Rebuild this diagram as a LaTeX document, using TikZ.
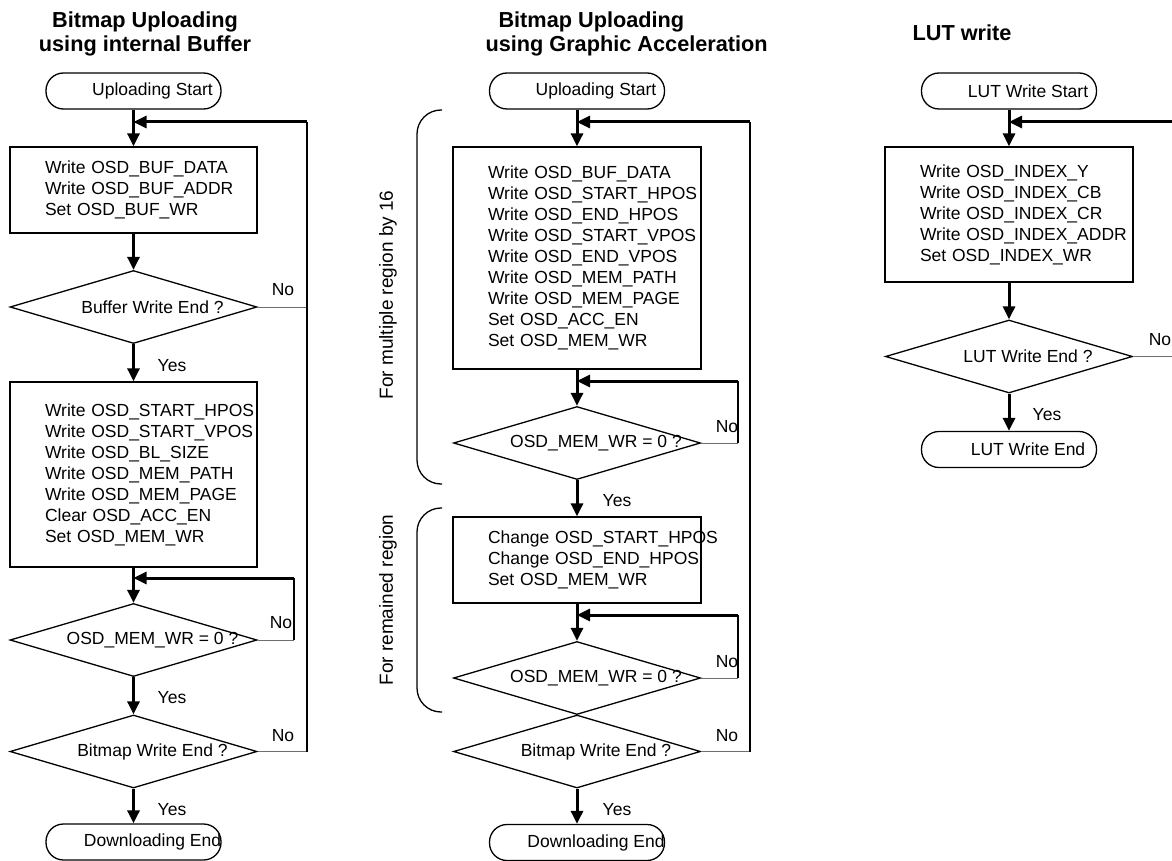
\documentclass[tikz,border=0pt]{standalone}
\usepackage{fontspec}
\setmainfont{Liberation Sans}
\usetikzlibrary{arrows.meta, shapes.geometric, positioning, calc}
\definecolor{nogray}{RGB}{110,110,110}
\hyphenpenalty=10000
\newcommand{\shiftr}[1]{\makebox[0pt]{\hspace*{38pt}#1}}

\begin{document}
\begin{tikzpicture}[x=1pt, y=-1pt,
    bodyfont/.style={font=\fontsize{17.5}{21}\selectfont},
    ttl/.style={font=\fontsize{21.7}{23.5}\selectfont\bfseries, align=center},
    term/.style={draw, line width=1.3pt, rounded corners=17.5pt, minimum width=175pt, minimum height=36pt, bodyfont},
    proc/.style={draw, line width=1.3pt, minimum width=247pt, text width=177pt, inner xsep=35pt, align=left, bodyfont},
    decision/.style={draw, diamond, line width=1.3pt, minimum width=247pt, minimum height=73pt, inner sep=1pt, bodyfont},
    flow/.style={line width=3pt, -{Triangle[length=13pt, width=12pt]}},
    backline/.style={line width=1.5pt},
    noline/.style={line width=0.8pt, nogray},
    yn/.style={bodyfont, inner sep=0pt},
    sidenote/.style={font=\fontsize{19}{21}\selectfont, rotate=90},
    brace/.style={line width=1.3pt, rounded corners=24pt}
]
    \useasboundingbox (0,0) rectangle (1172,861);

    % Column 1: internal buffer
    \node[ttl] (T1) at (145,34) {Bitmap Uploading\\using internal Buffer};
    \node[term] (S1) at (133.5,91) {\shiftr{Uploading Start}};
    \node[proc, minimum height=86pt] (P1) at (133.5,190)
        {Write~OSD\_BUF\_DATA\\Write~OSD\_BUF\_ADDR\\Set~OSD\_BUF\_WR};
    \node[decision] (D1) at (133.5,307) {\shiftr{Buffer Write End ?}};
    \node[proc, minimum height=185pt] (P2) at (133.5,474.5)
        {Write~OSD\_START\_HPOS\\Write~OSD\_START\_VPOS\\Write~OSD\_BL\_SIZE\\Write~OSD\_MEM\_PATH\\Write~OSD\_MEM\_PAGE\\Clear~OSD\_ACC\_EN\\Set~OSD\_MEM\_WR};
    \node[decision] (D2) at (133.5,640) {\shiftr{OSD\_MEM\_WR = 0 ?}};
    \node[decision] (D3) at (133.5,751.5) {\shiftr{Bitmap Write End ?}};
    \node[term] (E1) at (133.5,842) {\shiftr{Downloading End}};
    \coordinate (R1) at (307,122);
    \coordinate (R2) at (294,578);

    \draw[flow] (S1) -- (P1);
    \draw[flow] (P1) -- (D1);
    \draw[flow] (D1) -- (P2);
    \draw[flow] (P2) -- (D2);
    \draw[flow] (D2) -- (D3);
    \draw[flow] (D3) -- (E1);
    \draw[noline] (D1.east) -- (D1.east -| R1);
    \draw[noline] (D3.east) -- (D3.east -| R1);
    \draw[backline] (D3.east -| R1) -- (R1);
    \draw[flow] (R1) -- (R1 -| S1);
    \draw[noline] (D2.east) -- (D2.east -| R2);
    \draw[backline] (D2.east -| R2) -- (R2);
    \draw[flow] (R2) -- (R2 -| P2);

    \node[yn] at (283,290) {No};
    \node[yn] at (172,366) {Yes};
    \node[yn] at (281,623) {No};
    \node[yn] at (172,698) {Yes};
    \node[yn] at (283,736) {No};
    \node[yn] at (172,810) {Yes};

    % Column 2: graphic acceleration
    \node[ttl, align=left, anchor=west] (T2) at (482,34) {\hspace*{13pt}Bitmap Uploading\\using Graphic Acceleration};
    \node[term] (S2) at (577,91) {\shiftr{Uploading Start}};
    \node[proc, minimum width=248pt, text width=178pt, minimum height=222pt] (PA) at (577,258)
        {Write~OSD\_BUF\_DATA\\Write~OSD\_START\_HPOS\\Write~OSD\_END\_HPOS\\Write~OSD\_START\_VPOS\\Write~OSD\_END\_VPOS\\Write~OSD\_MEM\_PATH\\Write~OSD\_MEM\_PAGE\\Set~OSD\_ACC\_EN\\Set~OSD\_MEM\_WR};
    \node[decision] (DA) at (577,443) {\shiftr{OSD\_MEM\_WR = 0 ?}};
    \node[proc, minimum width=248pt, text width=178pt, minimum height=86pt] (PB) at (577,560)
        {Change~OSD\_START\_HPOS\\Change~OSD\_END\_HPOS\\Set~OSD\_MEM\_WR};
    \node[decision] (DB) at (577,678) {\shiftr{OSD\_MEM\_WR = 0 ?}};
    \node[decision] (DC) at (577,751.5) {\shiftr{Bitmap Write End ?}};
    \node[term] (E2) at (577,842.5) {\shiftr{Downloading End}};
    \coordinate (R3) at (750,122);
    \coordinate (R4) at (738,381);
    \coordinate (R6) at (738,615);

    \draw[flow] (S2) -- (PA);
    \draw[flow] (PA) -- (DA);
    \draw[flow] (DA) -- (PB);
    \draw[flow] (PB) -- (DB);
    \draw[flow] (DC) -- (E2);
    \draw[noline] (DC.east) -- (DC.east -| R3);
    \draw[backline] (DC.east -| R3) -- (R3);
    \draw[flow] (R3) -- (R3 -| S2);
    \draw[noline] (DA.east) -- (DA.east -| R4);
    \draw[backline] (DA.east -| R4) -- (R4);
    \draw[flow] (R4) -- (R4 -| PA);
    \draw[noline] (DB.east) -- (DB.east -| R6);
    \draw[backline] (DB.east -| R6) -- (R6);
    \draw[flow] (R6) -- (R6 -| PB);

    \node[yn] at (727,427) {No};
    \node[yn] at (617,501) {Yes};
    \node[yn] at (727,662) {No};
    \node[yn] at (727,736) {No};
    \node[yn] at (617,810) {Yes};

    % Side brackets
    \draw[brace] (442,110) -| (417,484) -- (442,484);
    \draw[brace] (442,508) -| (417,712) -- (442,712);
    \node[sidenote] (N1) at (388,295) {For multiple region by 16};
    \node[sidenote] (N2) at (388,600) {For remained region};

    % Column 3: LUT
    \node[ttl] (T3) at (962,33) {LUT write};
    \node[term] (S3) at (1009,91) {\shiftr{LUT Write Start}};
    \node[proc, minimum width=248pt, text width=178pt, minimum height=135pt] (PL) at (1009,214.5)
        {Write~OSD\_INDEX\_Y\\Write~OSD\_INDEX\_CB\\Write~OSD\_INDEX\_CR\\Write~OSD\_INDEX\_ADDR\\Set~OSD\_INDEX\_WR};
    \node[decision] (DL) at (1009,356.5) {\shiftr{LUT Write End ?}};
    \node[term] (EL) at (1009,449.5) {\shiftr{LUT Write End}};
    \coordinate (R5) at (1177,122);

    \draw[flow] (S3) -- (PL);
    \draw[flow] (PL) -- (DL);
    \draw[flow] (DL) -- (EL);
    \draw[noline] (DL.east) -- (DL.east -| R5);
    \draw[backline] (DL.east -| R5) -- (R5);
    \draw[flow] (R5) -- (R5 -| S3);

    \node[yn] at (1160,340) {No};
    \node[yn] at (1047,415) {Yes};
\end{tikzpicture}
\end{document}
